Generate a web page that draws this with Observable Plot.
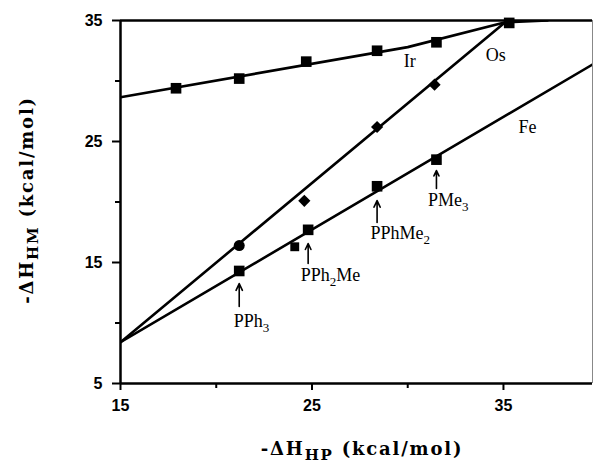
<!DOCTYPE html>
<html><head><meta charset="utf-8">
<script src="https://cdn.jsdelivr.net/npm/d3@7"></script>
<script src="https://cdn.jsdelivr.net/npm/@observablehq/plot@0.6"></script>
<style>
body{margin:0;background:#fff}
#chart svg{display:block}
</style></head><body><div id="chart"></div>
<script>
// ---- data ----
const xDomain = [15, 39.65];
const yDomain = [5, 35];
const xTicksMajor = [15, 25, 35];
const xTicksMinor = [20, 30];
const yTicksMajor = [5, 15, 25, 35];
const yTicksMinor = [10, 20, 30];

// Ir (squares)
const irX = [17.9, 21.2, 24.7, 28.4, 31.5, 35.3];
const irY = [29.4, 30.2, 31.6, 32.5, 33.2, 34.8];
// Os (circle then diamonds)
const osX = [21.2, 24.6, 28.4, 31.4];
const osY = [16.4, 20.1, 26.2, 29.7];
const osSym = ["circle", "diamond2", "diamond2", "diamond2"];
// Fe (squares)
const feX = [21.2, 24.1, 24.8, 28.4, 31.5];
const feY = [14.3, 16.3, 17.7, 21.3, 23.5];
const feR = [6, 5, 6, 6, 6];

// fitted lines (as drawn)
const irLineX = [15, 30.0, 35.1, 37.3];
const irLineY = [28.66, 32.8, 34.86, 35.0];
const osLineX = [15, 35.2];
const osLineY = [8.41, 35.0];
const feLineX = [15, 39.65];
const feLineY = [8.41, 31.36];

// series labels
const seriesNames = ["Ir", "Os", "Fe"];
const seriesLabelX = [30.1, 34.6, 36.25];
const seriesLabelY = [31.6, 32.1, 26.2];

// ligand annotations (arrows pointing to Fe points); digits are subscripts
const ligands = ["PPh3", "PPh2Me", "PPhMe2", "PMe3"];
const ligandX = [21.2, 24.8, 28.4, 31.5];
const arrowFromY = [11.36, 14.92, 18.31, 21.12];
const arrowToY = [13.26, 16.57, 20.12, 22.6];
const ligandTextY = [10.07, 13.93, 17.4, 20.12];
const ligandDx = [-5, -7, -6, -8];

// ---- build tables ----
const ir = irX.map((x, i) => ({x, y: irY[i]}));
const os = osX.map((x, i) => ({x, y: osY[i], s: osSym[i]}));
const fe = feX.map((x, i) => ({x, y: feY[i], r: feR[i]}));
const irLine = irLineX.map((x, i) => ({x, y: irLineY[i]}));
const osLine = osLineX.map((x, i) => ({x, y: osLineY[i]}));
const feLine = feLineX.map((x, i) => ({x, y: feLineY[i]}));
const seriesLabels = seriesNames.map((t, i) => ({t, x: seriesLabelX[i], y: seriesLabelY[i]}));
const lig = ligands.map((t, i) => ({t, x: ligandX[i], y1: arrowFromY[i], y2: arrowToY[i], ty: ligandTextY[i], dx: ligandDx[i]}));

const serif = "'Liberation Serif', 'Times New Roman', serif";
const wideSerif = "'DejaVu Serif', serif";
const sans = "'Liberation Sans', Arial, sans-serif";

const plot = Plot.plot({
  width: 596, height: 465,
  marginLeft: 120, marginRight: 4, marginTop: 20, marginBottom: 82,
  x: {domain: xDomain},
  y: {domain: yDomain},
  r: {type: "identity"},
  style: {background: "white", color: "black", fontFamily: sans},
  marks: [
    Plot.axisX({ticks: xTicksMajor, tickSize: 7, tickPadding: 9, label: null, fontSize: 16, fontWeight: "bold", strokeWidth: 2}),
    Plot.axisX({ticks: xTicksMinor, tickSize: 5, tickFormat: () => "", label: null, strokeWidth: 2}),
    Plot.axisY({ticks: yTicksMajor, tickSize: 8, tickPadding: 10, label: null, fontSize: 16, fontWeight: "bold", strokeWidth: 2}),
    Plot.axisY({ticks: yTicksMinor, tickSize: 5, tickFormat: () => "", label: null, strokeWidth: 2}),
    Plot.ruleY([yDomain[0]], {strokeWidth: 2.5}),
    Plot.ruleY([yDomain[1]], {strokeWidth: 2.5}),
    Plot.ruleX([xDomain[0]], {strokeWidth: 2.5}),
    Plot.ruleX([xDomain[1]], {stroke: "#888", strokeWidth: 1}),
    Plot.line(irLine, {x: "x", y: "y", strokeWidth: 2.6, clip: true}),
    Plot.line(osLine, {x: "x", y: "y", strokeWidth: 2.6, clip: true}),
    Plot.line(feLine, {x: "x", y: "y", strokeWidth: 2.6, clip: true}),
    Plot.dot(ir, {x: "x", y: "y", symbol: "square", r: 6, fill: "black"}),
    Plot.dot(os, {x: "x", y: "y", symbol: "s", r: 5.5, fill: "black"}),
    Plot.dot(fe, {x: "x", y: "y", symbol: "square", r: "r", fill: "black"}),
    Plot.text(seriesLabels, {x: "x", y: "y", text: "t", fontFamily: serif, fontSize: 18}),
    Plot.arrow(lig, {x1: "x", x2: "x", y1: "y1", y2: "y2", strokeWidth: 1.6, headLength: 7, headAngle: 50})
  ]
});

document.getElementById("chart").appendChild(plot);

const svg = d3.select(plot);
const sx = plot.scale("x"), sy = plot.scale("y");

// ligand labels with subscript digits, placed through Plot's scales
const gl = svg.append("g").attr("font-family", serif).attr("font-size", 18)
  .attr("fill", "black").attr("text-anchor", "start");
lig.forEach(d => {
  const t = gl.append("text")
    .attr("x", sx.apply(d.x) + d.dx)
    .attr("y", sy.apply(d.ty))
    .attr("dy", "0.32em");
  const parts = d.t.split(/(\d)/).filter(p => p.length);
  let sub = false;
  parts.forEach(p => {
    const isDigit = /^\d$/.test(p);
    const ts = t.append("tspan").text(p);
    if (isDigit) { ts.attr("font-size", 13); if (!sub) ts.attr("dy", 5); sub = true; }
    else if (sub) { ts.attr("dy", -5); sub = false; }
  });
});

// axis titles with subscripts
function title(g, main, subs, rest) {
  const t = g.append("text")
    .attr("font-family", wideSerif).attr("font-weight", "bold").attr("font-size", 18)
    .attr("text-anchor", "middle").attr("fill", "black").attr("letter-spacing", 1.8);
  t.append("tspan").text(main);
  t.append("tspan").text(subs).attr("font-size", 15).attr("dy", 5);
  t.append("tspan").text(rest).attr("dy", -5);
  return t;
}
title(svg.append("g").attr("transform", "translate(362,455)"), "-\u0394H", "HP", " (kcal/mol)");
title(svg.append("g").attr("transform", "translate(33,200) rotate(-90)"), "-\u0394H", "HM", " (kcal/mol)");
</script>
</body></html>
